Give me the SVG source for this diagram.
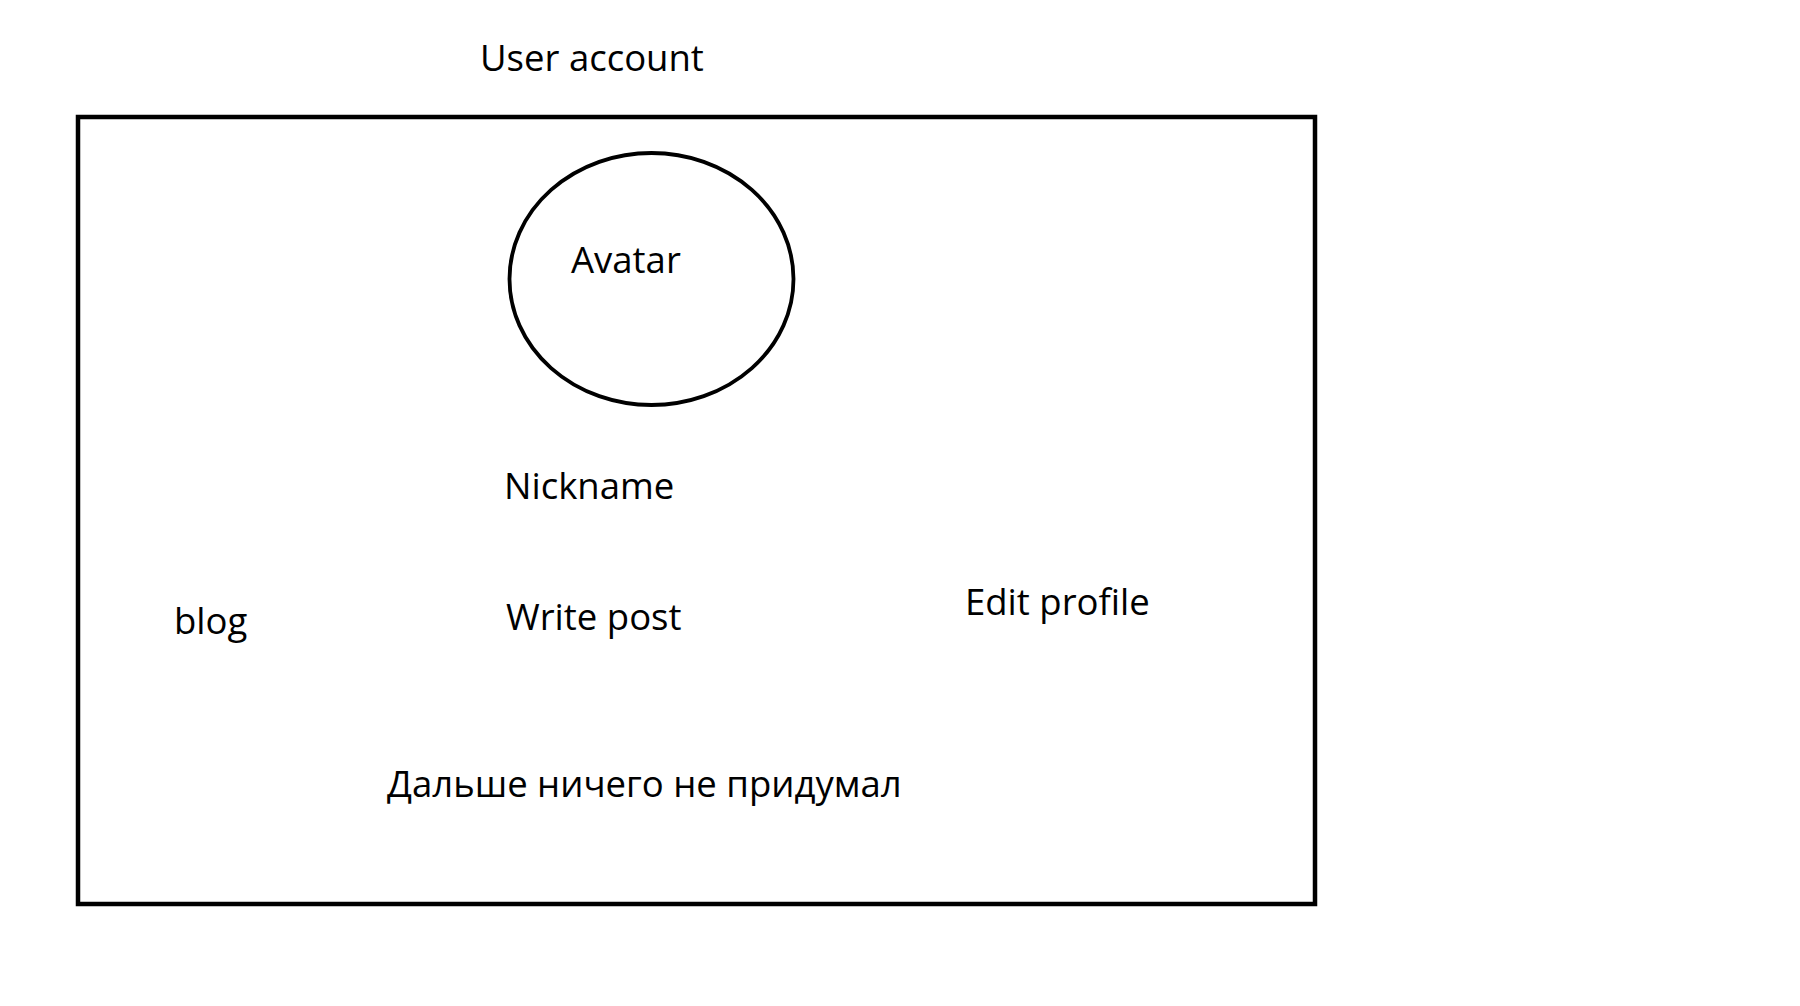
<svg xmlns="http://www.w3.org/2000/svg" width="1800" height="1006" viewBox="0 0 1800 1006">
  <style>
    .lbl { font-family: "Open Sans", "Noto Sans", "DejaVu Sans", sans-serif; font-size: 36.5px; fill: #000; }
    .frame { fill: none; stroke: #000; stroke-width: 4.5; }
    .avatar { fill: none; stroke: #000; stroke-width: 3.8; }
  </style>
  <rect width="1800" height="1006" fill="#fff"/>

  <!-- page title -->
  <g id="title">
    <text class="lbl" x="480" y="71">User account</text>
  </g>

  <!-- account frame -->
  <g id="account">
    <rect class="frame" x="78" y="117" width="1237" height="787"/>
  </g>

  <g id="avatar">
    <ellipse class="avatar" cx="651.5" cy="279" rx="142" ry="126"/>
    <text class="lbl" x="571" y="273">Avatar</text>
  </g>

  <g id="nickname">
    <text class="lbl" x="504" y="499">Nickname</text>
  </g>

  <g id="blog">
    <text class="lbl" x="174" y="634">blog</text>
  </g>

  <g id="write-post">
    <text class="lbl" x="506" y="630">Write post</text>
  </g>

  <g id="edit-profile">
    <text class="lbl" x="965" y="615">Edit profile</text>
  </g>

  <g id="todo">
    <text class="lbl" x="387" y="797">Дальше ничего не придумал</text>
  </g>

  <!-- no connectors in this sketch -->
  <g id="connectors"/>
</svg>
